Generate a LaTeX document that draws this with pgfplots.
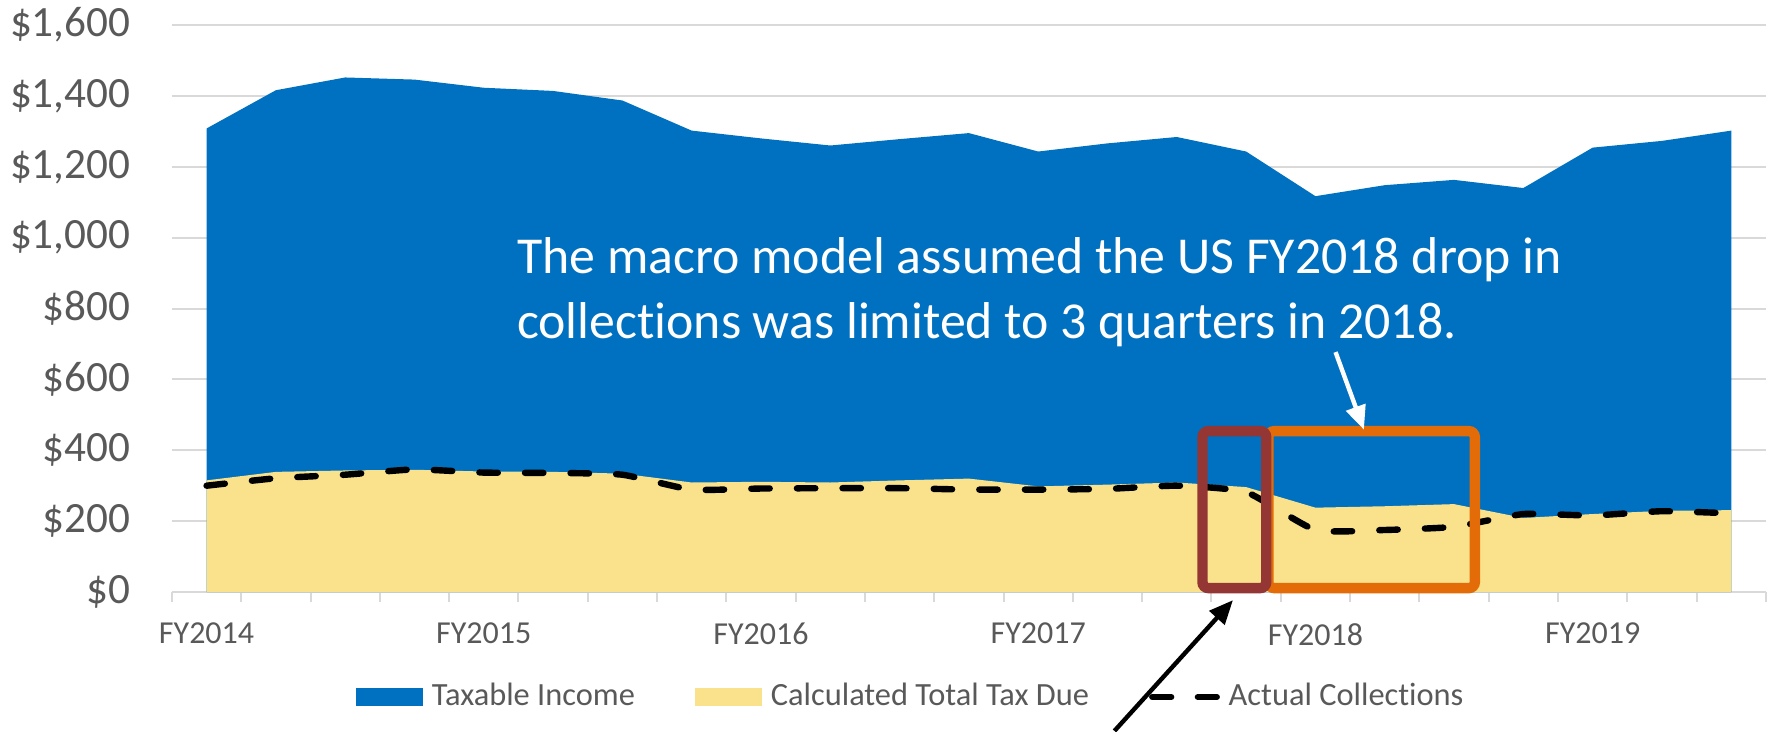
\documentclass[border=0pt]{standalone}
\usepackage{fontspec}
\setmainfont{Carlito}[Ligatures=NoCommon]
\usepackage{pgfplots}
\pgfplotsset{compat=1.18}
\usetikzlibrary{arrows.meta}
\definecolor{tiBlue}{HTML}{0070C0}
\definecolor{taxYellow}{HTML}{F9E28B}
\definecolor{boxRed}{HTML}{943634}
\definecolor{boxOrange}{HTML}{E36C09}
\definecolor{tickGray}{HTML}{595959}
\definecolor{gridGray}{HTML}{D9D9D9}

\begin{document}
\begin{tikzpicture}
\useasboundingbox (-42.98pt,-34.75pt) rectangle (400.28pt,148pt);
\begin{axis}[
  at={(0,0)}, anchor=south west, scale only axis,
  width=398.5pt, height=141.75pt,
  xmin=-0.5, xmax=22.5, ymin=0, ymax=1600,
  clip=false,
  axis x line*=bottom, axis y line*=left,
  x axis line style={gridGray, line width=0.6pt},
  y axis line style={draw=none},
  xtick={0,4,8,12,16,20},
  xticklabels={FY2014,FY2015,FY2016,FY2017,FY2018,FY2019},
  minor xtick={-0.5,0.5,...,22.5},
  ytick={0,200,...,1600},
  major tick length=0pt, minor tick length=2.6pt, tick align=outside,
  minor x tick style={gridGray, line width=0.5pt},
  ymajorgrids, grid style={gridGray, line width=0.5pt},
  /pgf/number format/assume math mode=true,
  /pgf/number format/1000 sep={,},
  yticklabel={\$\pgfmathprintnumber{\tick}},
  yticklabel style={anchor=east, inner sep=0pt, xshift=-10.2pt,
    font=\fontsize{10.8}{12.5}\selectfont, text=tickGray},
  xticklabel style={anchor=north, inner sep=0pt, yshift=-7.6pt,
    font=\fontsize{8}{9.6}\selectfont, text=tickGray},
  legend style={at={(0.1149,-0.1852)}, anchor=west, draw=none, fill=none,
    inner sep=0pt, legend columns=3, font=\fontsize{8.1}{9.7}\selectfont,
    text=tickGray, nodes={inner sep=1pt},
    /tikz/every odd column/.append style={column sep=1.2pt},
    /tikz/every even column/.append style={column sep=14pt}},
]
\addplot[fill=tiBlue, draw=none,
  legend image code/.code={\fill[tiBlue] (0pt,-2.3pt) rectangle (16.8pt,2.3pt);}]
  coordinates {
  (0,1308) (1,1416) (2,1452) (3,1446) (4,1423) (5,1414) (6,1387) (7,1302)
  (8,1280) (9,1260) (10,1278) (11,1295) (12,1243) (13,1266) (14,1284)
  (15,1243) (16,1117) (17,1148) (18,1163) (19,1140) (20,1254) (21,1273) (22,1302)
  } \closedcycle;
\addplot[fill=taxYellow, draw=none,
  legend image code/.code={\fill[taxYellow] (0pt,-2.3pt) rectangle (16.8pt,2.3pt);}]
  coordinates {
  (0,315) (1,339) (2,343) (3,345) (4,340) (5,339) (6,334) (7,309)
  (8,311) (9,309) (10,315) (11,320) (12,298) (13,303) (14,309)
  (15,296) (16,238) (17,242) (18,248) (19,209) (20,220) (21,229) (22,231)
  } \closedcycle;
\addplot[black, line width=1.6pt, dash pattern=on 4.6pt off 6.8pt, line cap=round,
  line join=round, smooth, tension=0.3,
  legend image code/.code={\draw[black, line width=1.5pt, dash pattern=on 4.8pt off 6.6pt, line cap=round] (0.8pt,0pt) -- (17pt,0pt);}]
  coordinates {
  (0,300) (1,321) (2,331) (3,346) (4,337) (5,336) (6,331) (7,289)
  (8,292) (9,293) (10,293) (11,289) (12,289) (13,291) (14,300)
  (15,282) (16,175) (17,175) (18,184) (19,220) (20,216) (21,228) (22,222)
  };
\legend{Taxable Income, Calculated Total Tax Due, Actual Collections}

\draw[boxOrange, line width=2.6pt, rounded corners=1.5pt]
  (axis cs:15.32,11) rectangle (axis cs:18.3,454);
\draw[boxRed, line width=2.6pt, rounded corners=1.5pt]
  (axis cs:14.37,11) rectangle (axis cs:15.29,454);
\draw[white, line width=1.1pt, -{Triangle[length=6pt,width=5pt]}]
  (axis cs:16.29,677) -- (axis cs:16.70,458);
\draw[black, line width=1.1pt, -{Triangle[length=6pt,width=5pt]}]
  (axis cs:13.1,-392) -- (axis cs:14.81,-23);
\node[anchor=base west, inner sep=0pt, text=white, font=\fontsize{12.95}{15.5}\selectfont]
  at (axis cs:4.47,900) {The macro model assumed the US FY2018 drop in};
\node[anchor=base west, inner sep=0pt, text=white, font=\fontsize{12.95}{15.5}\selectfont]
  at (axis cs:4.47,716) {collections was limited to 3 quarters in 2018.};
\end{axis}
\end{tikzpicture}
\end{document}
